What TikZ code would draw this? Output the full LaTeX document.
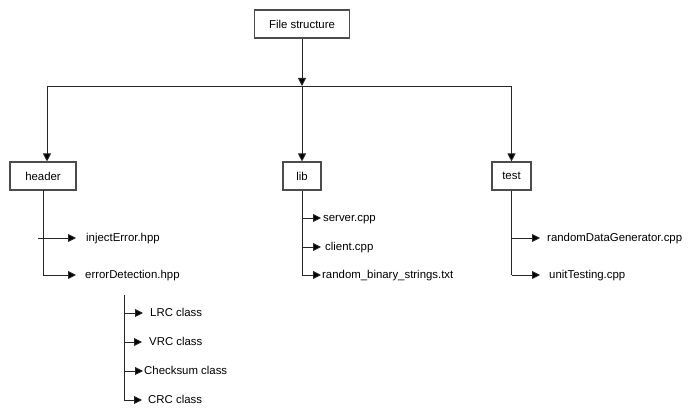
\documentclass[tikz,border=0pt]{standalone}
\usepackage{fontspec}
\setmainfont{Liberation Sans}
\usetikzlibrary{arrows.meta}
\tikzset{tipfs/.tip={Triangle[length=8pt,width=8pt,fill=black]}}
\begin{document}
\begin{tikzpicture}[x=1pt,y=-1pt,
  box/.style={draw=black!70,line width=1.1pt,minimum height=28pt,inner sep=0pt,font=\fontsize{11.4}{13}\selectfont},
  lbl/.style={anchor=west,inner ysep=0pt,text height=8pt,text depth=0pt,font=\fontsize{11.4}{13}\selectfont},
  ln/.style={draw=black!85,line width=0.9pt},
  arr/.style={ln,-tipfs}]
\useasboundingbox (0,0) rectangle (694,419);
\fill[white] (0,0) rectangle (694,419);
% boxes
\node[box,minimum width=95pt] (root) at (302,24) {File structure};
\node[box,minimum width=66pt] (header) at (43,176) {header};
\node[box,minimum width=38pt] (lib) at (302,176) {lib};
\node[box,minimum width=39pt] (test) at (511.5,176) {test};
% junction
\coordinate (j) at (302,86);
\coordinate (jl) at (47,86);
\coordinate (jr) at (511.5,86);
\draw[arr] (root.south) -- (j);
\draw[ln] (jl) -- (jr);
\draw[arr] (jl) -- (jl |- header.north);
\draw[arr] (j) -- (lib.north);
\draw[arr] (jr) -- (test.north);
% header children
\node[lbl,inner xsep=10pt] (inj) at (76,238) {injectError.hpp};
\node[lbl,inner xsep=9pt] (det) at (76,275) {errorDetection.hpp};
\coordinate (hs) at (43,190);
\coordinate (hb) at (43,275);
\coordinate (hi) at (38,238);
\draw[ln] (hs) -- (hb);
\draw[arr] (hi) -- (inj.west);
\draw[arr] (hb) -- (det.west);
% errorDetection sub-items
\node[lbl,inner xsep=7pt] (lrc) at (143,313) {LRC class};
\node[lbl,inner xsep=7pt] (vrc) at (142,342) {VRC class};
\node[lbl,inner xsep=1pt] (chk) at (143,371) {Checksum class};
\node[lbl,inner xsep=6pt] (crc) at (142,400) {CRC class};
\coordinate (dt) at (124,295);
\coordinate (d1) at (124,313);
\coordinate (d2) at (124,342);
\coordinate (d3) at (124,371);
\coordinate (d4) at (124,400);
\draw[ln] (dt) -- (d4);
\draw[arr] (d1) -- (lrc.west);
\draw[arr] (d2) -- (vrc.west);
\draw[arr] (d3) -- (chk.west);
\draw[arr] (d4) -- (crc.west);
% lib children
\node[lbl,inner xsep=2pt] (srv) at (321,218) {server.cpp};
\node[lbl,inner xsep=4pt] (cli) at (321,247) {client.cpp};
\node[lbl,inner xsep=1pt] (rnd) at (321,275) {random\_binary\_strings.txt};
\coordinate (l1) at (302,218);
\coordinate (l2) at (302,247);
\coordinate (l3) at (302,275);
\draw[ln] (lib.south) -- (l3);
\draw[arr] (l1) -- (srv.west);
\draw[arr] (l2) -- (cli.west);
\draw[arr] (l3) -- (rnd.west);
% test children
\node[lbl,inner xsep=7pt] (rdg) at (540,238) {randomDataGenerator.cpp};
\node[lbl,inner xsep=9pt] (ut) at (540,275) {unitTesting.cpp};
\coordinate (t1) at (511.5,238);
\coordinate (t2) at (511.5,275);
\draw[ln] (test.south) -- (t2);
\draw[arr] (t1) -- (rdg.west);
\draw[arr] (t2) -- (ut.west);
\end{tikzpicture}
\end{document}
